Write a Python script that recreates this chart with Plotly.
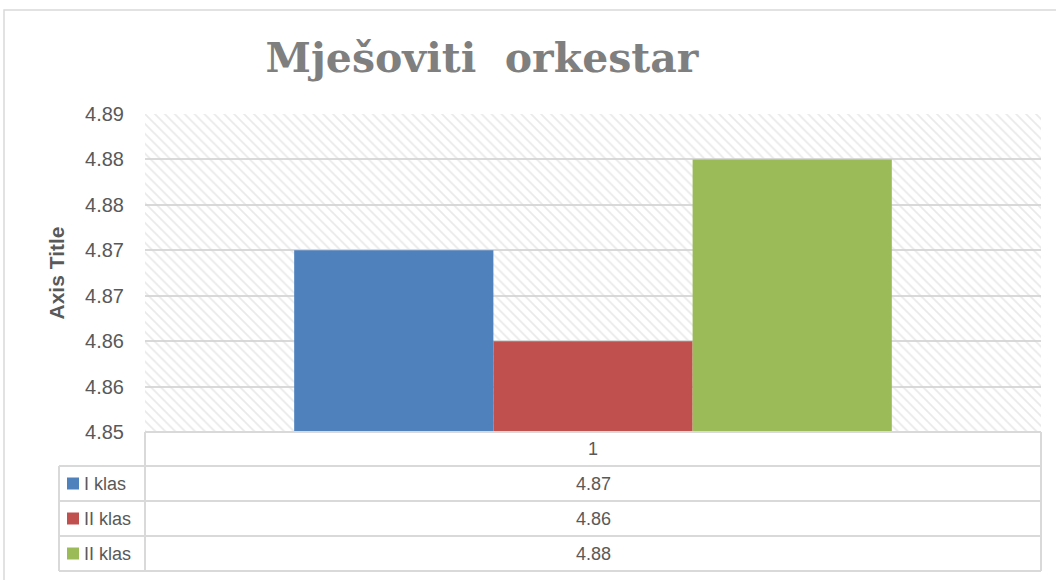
import plotly.graph_objects as go

categories = ["1"]
series_names = ["I klas", "II klas", "II klas"]
series_values = [4.87, 4.86, 4.88]
series_colors = ["#4f81bd", "#c0504d", "#9bbb59"]
tick_vals = [4.85, 4.855, 4.86, 4.865, 4.87, 4.875, 4.88, 4.885]
tick_text = ["4.85", "4.86", "4.86", "4.87", "4.87", "4.88", "4.88", "4.89"]
y_min, y_max = 4.85, 4.885

W, H = 1056, 580
L, R, T, B = 145, 15, 114, 148
plot_w = W - L - R
plot_h = H - T - B


def px_x(p):
    return (p - L) / plot_w


def px_y(p):
    return (H - B - p) / plot_h


txt = "#595959"
grid = "#d9d9d9"
sans = "Liberation Sans"

fig = go.Figure()

# hatched plot-area background
fig.add_trace(go.Bar(
    x=[0], y=[y_max], width=[1], xaxis="x", yaxis="y",
    marker=dict(color="rgba(0,0,0,0)", line_width=0,
                pattern=dict(shape="\\", fgcolor="#d4d4d4", size=7, solidity=0.25)),
    showlegend=False, hoverinfo="skip",
))

for name, val, col in zip(series_names, series_values, series_colors):
    fig.add_trace(go.Bar(
        x=categories, y=[val], name=name, xaxis="x2", yaxis="y",
        marker=dict(color=col, line_width=0), showlegend=False,
    ))

fig.update_layout(
    width=W, height=H,
    margin=dict(l=L, r=R, t=T, b=B),
    paper_bgcolor="white", plot_bgcolor="white",
    barmode="group", bargap=0.333,
    title=dict(text="<b>Mješoviti  orkestar</b>", x=482 / W, xanchor="center",
               y=1 - 58 / H, yanchor="middle",
               font=dict(family="DejaVu Serif", size=41, color="#7f7f7f")),
    xaxis=dict(range=[-0.5, 0.5], visible=False, fixedrange=True),
    xaxis2=dict(overlaying="x", visible=False, type="category"),
    yaxis=dict(range=[y_min, y_max], tickvals=tick_vals, ticktext=tick_text,
               showgrid=True, gridcolor=grid, gridwidth=1.5, zeroline=False,
               showline=False, ticks="", ticklabelstandoff=20,
               tickfont=dict(family=sans, size=20, color=txt),
               title=dict(text="<b>Axis Title</b>", standoff=14,
                          font=dict(family=sans, size=21, color=txt))),
    font=dict(family=sans, color=txt),
)

shapes = []
line = dict(color=grid, width=2)
# outer chart border
shapes.append(dict(type="rect", xref="paper", yref="paper",
                   x0=px_x(4), x1=px_x(1062), y0=px_y(586), y1=px_y(10),
                   line=dict(color="#d9d9d9", width=1.5), layer="below"))
# data table
row_px = [432, 466, 501, 536, 571]
x_left, x_mid, x_right = 59, 145, 1041
shapes.append(dict(type="line", xref="paper", yref="paper",
                   x0=px_x(x_mid), x1=px_x(x_right), y0=px_y(row_px[0]), y1=px_y(row_px[0]), line=line))
for yy in row_px[1:]:
    shapes.append(dict(type="line", xref="paper", yref="paper",
                       x0=px_x(x_left), x1=px_x(x_right), y0=px_y(yy), y1=px_y(yy), line=line))
shapes.append(dict(type="line", xref="paper", yref="paper",
                   x0=px_x(x_mid), x1=px_x(x_mid), y0=px_y(row_px[0]), y1=px_y(row_px[-1]), line=line))
shapes.append(dict(type="line", xref="paper", yref="paper",
                   x0=px_x(x_right), x1=px_x(x_right), y0=px_y(row_px[0]), y1=px_y(row_px[-1]), line=line))
shapes.append(dict(type="line", xref="paper", yref="paper",
                   x0=px_x(x_left), x1=px_x(x_left), y0=px_y(row_px[1]), y1=px_y(row_px[-1]), line=line))

annotations = [dict(text=categories[0], xref="paper", yref="paper",
                    x=0.5, y=px_y((row_px[0] + row_px[1]) / 2), xanchor="center", yanchor="middle",
                    showarrow=False, font=dict(family=sans, size=18, color=txt))]
for i, (name, val, col) in enumerate(zip(series_names, series_values, series_colors)):
    yc = (row_px[i + 1] + row_px[i + 2]) / 2
    shapes.append(dict(type="rect", xref="paper", yref="paper",
                       x0=px_x(67), x1=px_x(79), y0=px_y(yc + 6), y1=px_y(yc - 6),
                       fillcolor=col, line_width=0))
    annotations.append(dict(text=name, xref="paper", yref="paper", x=px_x(82), xanchor="left",
                            y=px_y(yc), yanchor="middle", showarrow=False,
                            font=dict(family=sans, size=18, color=txt)))
    annotations.append(dict(text=f"{val:.2f}", xref="paper", yref="paper", x=0.5, xanchor="center",
                            y=px_y(yc), yanchor="middle", showarrow=False,
                            font=dict(family=sans, size=18, color=txt)))

fig.update_layout(shapes=shapes, annotations=annotations)

fig.write_html("out.html", config={"displayModeBar": False},
               post_script="document.body.style.margin='0';")
